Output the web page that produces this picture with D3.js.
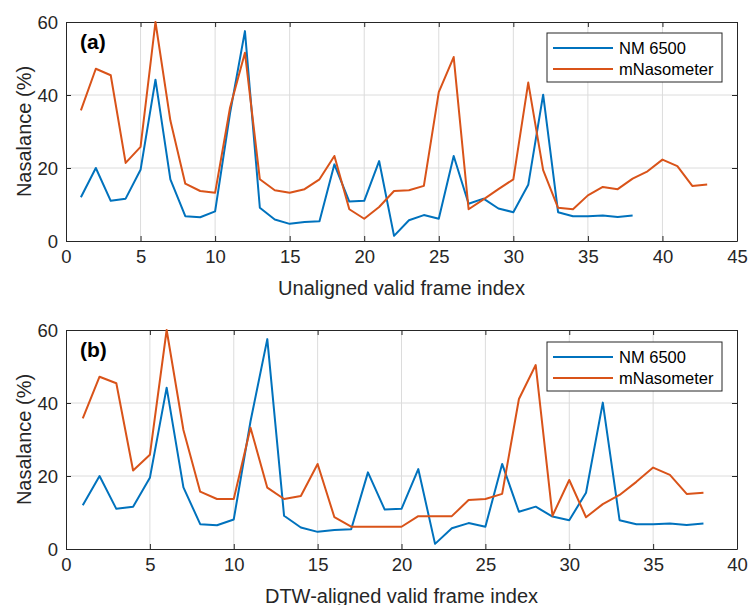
<!DOCTYPE html>
<html>
  <head>
    <meta charset="utf-8">
    <title>Nasalance comparison</title>
    <script src="https://d3js.org/d3.v7.min.js"></script>
    <style>
      body { margin: 0; background: #fff; }
      svg { font-family: "Liberation Sans", Arial, sans-serif; }
      .tick text { fill: #262626; font-size: 18.5px; }
      .axis-label { fill: #262626; font-size: 20px; }
      .grid line { stroke: #dcdcdc; }
    </style>
  </head>
  <body>
    <div id="chart"></div>
    <script>

      // NM 6500 (same in both panels)
      const nmValues = [12, 20, 11, 11.6, 19.5, 44.2, 16.9, 6.8, 6.5, 8.1,
        35, 57.5, 9.1, 5.9, 4.7, 5.2, 5.4, 21, 10.8, 11,
        21.9, 1.4, 5.7, 7.1, 6.1, 23.3, 10.2, 11.6, 8.9, 7.9,
        15.4, 40.1, 7.9, 6.8, 6.8, 7.0, 6.6, 7.0];

      // mNasometer, unaligned
      const mnUnaligned = [35.8, 47.2, 45.4, 21.4, 25.8, 60, 33, 15.7, 13.7, 13.2,
        36.5, 51.6, 16.9, 13.9, 13.2, 14.2, 16.9, 23.3, 8.7, 6.1,
        9.3, 13.7, 13.9, 15.1, 40.8, 50.4, 8.7, 11.4, 14.2, 16.9,
        43.4, 19.4, 9.1, 8.7, 12.5, 14.8, 14.2, 17.1, 19.1, 22.3,
        20.5, 15.1, 15.5];

      // mNasometer, DTW-aligned
      const mnAligned = [35.8, 47.2, 45.4, 21.5, 25.8, 60, 32.6, 15.7, 13.7, 13.7,
        33.2, 16.8, 13.7, 14.5, 23.3, 8.7, 6.1, 6.1, 6.1, 6.1,
        9.0, 9.0, 9.0, 13.4, 13.7, 15.1, 41.1, 50.4, 9.1, 18.9,
        8.7, 12.3, 14.8, 18.4, 22.3, 20.3, 15.1, 15.4];

      const seriesNames = ['NM 6500', 'mNasometer'];
      const seriesColors = ['#0072BD', '#D95319'];
      const yTicks = [0, 20, 40, 60];
      const yTickLabels = ['0', '20', '40', '60'];

      const panels = [
        { tag: '(a)', xLabel: 'Unaligned valid frame index', xMax: 45, top: 22, series: [nmValues, mnUnaligned] },
        { tag: '(b)', xLabel: 'DTW-aligned valid frame index', xMax: 40, top: 330, series: [nmValues, mnAligned] }
      ];

      const width = 748, height = 605;
      const left = 66, right = 737, plotH = 219;

      const svg = d3.select('#chart').append('svg')
        .attr('width', width)
        .attr('height', height);

      panels.forEach(p => {
        const g = svg.append('g').attr('transform', `translate(${left},${p.top})`);
        const innerWidth = right - left;

        const x = d3.scaleLinear().domain([0, p.xMax]).range([0, innerWidth]);
        const y = d3.scaleLinear().domain([0, 60]).range([plotH, 0]);
        const xTicks = d3.range(0, p.xMax + 1, 5);

        // grid
        const grid = g.append('g').attr('class', 'grid');
        grid.selectAll('.vx').data(xTicks.slice(1, -1)).enter().append('line')
          .attr('x1', d => x(d)).attr('x2', d => x(d))
          .attr('y1', 0).attr('y2', plotH);
        grid.selectAll('.hy').data(yTicks.slice(1, -1)).enter().append('line')
          .attr('x1', 0).attr('x2', innerWidth)
          .attr('y1', d => y(d)).attr('y2', d => y(d));

        // axes
        const xAxis = g.append('g')
          .attr('transform', `translate(0,${plotH})`)
          .call(d3.axisBottom(x).tickValues(xTicks).tickSize(-5).tickPadding(12).tickSizeOuter(0));
        const yAxis = g.append('g')
          .call(d3.axisLeft(y).tickValues(yTicks).tickFormat((d, i) => yTickLabels[i])
            .tickSize(-5).tickPadding(8).tickSizeOuter(0));
        g.append('g')
          .call(d3.axisTop(x).tickValues(xTicks).tickSize(-5).tickFormat('').tickSizeOuter(0));
        g.append('g')
          .attr('transform', `translate(${innerWidth},0)`)
          .call(d3.axisRight(y).tickValues(yTicks).tickSize(-5).tickFormat('').tickSizeOuter(0));
        g.selectAll('.domain, .tick line').attr('stroke', '#262626');
        xAxis.selectAll('.tick text').attr('dy', '0.55em');
        yAxis.selectAll('.tick text').attr('dy', '0.35em');

        // lines
        const line = d3.line().x((d, i) => x(i + 1)).y(d => y(d));
        p.series.forEach((vals, k) => {
          g.append('path')
            .datum(vals)
            .attr('fill', 'none')
            .attr('stroke', seriesColors[k])
            .attr('stroke-width', 2)
            .attr('stroke-linejoin', 'round')
            .attr('d', line);
        });

        // panel tag
        g.append('text')
          .attr('x', 14).attr('y', 27)
          .attr('font-size', 21).attr('font-weight', 'bold')
          .attr('fill', '#000')
          .text(p.tag);

        // axis labels
        g.append('text')
          .attr('class', 'axis-label')
          .attr('x', innerWidth / 2).attr('y', plotH + 53.5)
          .attr('text-anchor', 'middle')
          .text(p.xLabel);
        g.append('text')
          .attr('class', 'axis-label')
          .attr('transform', `translate(-35,${plotH / 2}) rotate(-90)`)
          .attr('text-anchor', 'middle')
          .text('Nasalance (%)');

        // legend
        const lg = g.append('g').attr('transform', `translate(${547 - left},${p.top === 22 ? 11 : 12})`);
        lg.append('rect')
          .attr('width', 175).attr('height', 49)
          .attr('fill', '#fff').attr('stroke', '#262626');
        seriesNames.forEach((name, k) => {
          const yy = 15 + k * 21;
          lg.append('line')
            .attr('x1', 6).attr('x2', 66).attr('y1', yy).attr('y2', yy)
            .attr('stroke', seriesColors[k]).attr('stroke-width', 2);
          lg.append('text')
            .attr('x', 72).attr('y', yy).attr('dy', '0.35em')
            .attr('font-size', 16.5).attr('fill', '#000')
            .text(name);
        });
      });

    </script>
  </body>
</html>
